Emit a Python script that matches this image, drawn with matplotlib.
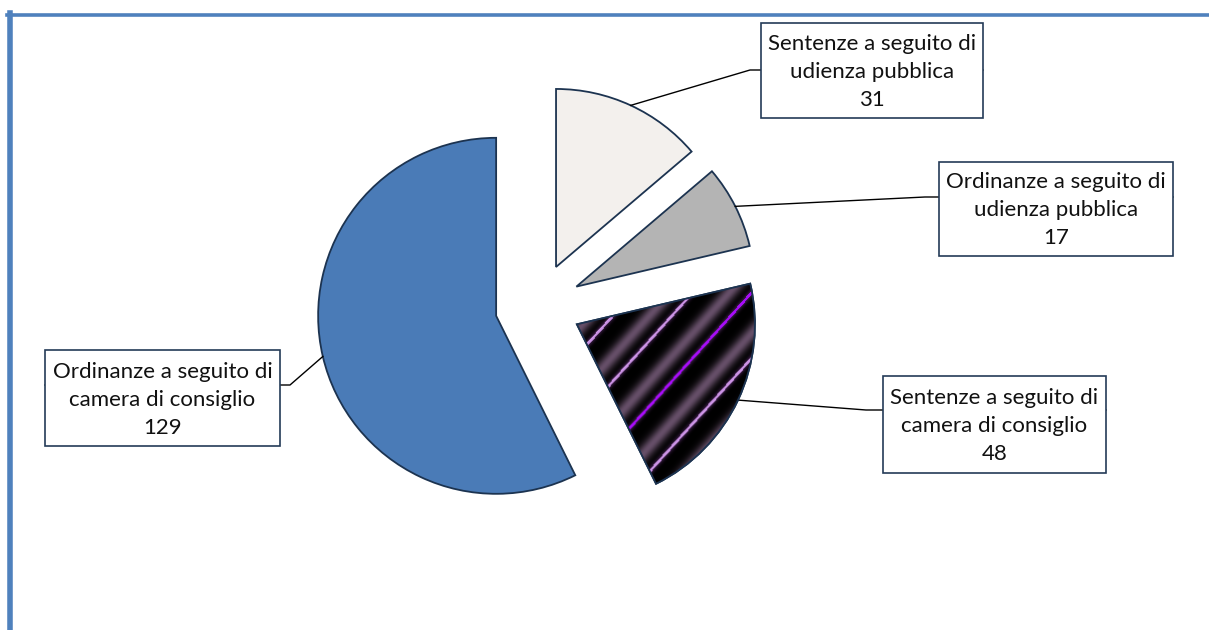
import numpy as np
import matplotlib
matplotlib.use("Agg")
import matplotlib.pyplot as plt
from matplotlib.patches import Rectangle, Wedge
from matplotlib.lines import Line2D

# ripartizione delle decisioni
categorie = ["Sentenze a seguito di\nudienza pubblica",
             "Ordinanze a seguito di\nudienza pubblica",
             "Sentenze a seguito di\ncamera di consiglio",
             "Ordinanze a seguito di\ncamera di consiglio"]
valori = [31, 17, 48, 129]
colori = ["#f3f0ed", "#b4b4b4", "#000000", "#4a7bb7"]

W, H = 1209, 630
fig = plt.figure(figsize=(W / 100, H / 100), dpi=100)
ax = fig.add_axes([0, 0, 1, 1])

centro = (538, H - 306)
raggio = 178
wedges, _ = ax.pie(valori, colors=colori, startangle=90, counterclock=False,
                   radius=raggio, center=centro, explode=[43] * len(valori),
                   wedgeprops=dict(edgecolor="#1c3350", linewidth=1.3))
ax.set_xlim(0, W)
ax.set_ylim(0, H)
ax.set_aspect("equal")
ax.axis("off")

# riempimento a righe diagonali per la fetta nera
w_nero = wedges[2]
cx, cy = w_nero.center
xs = np.arange(cx - 10, cx + raggio + 10)
ys = np.arange(cy - raggio - 10, cy + 40)
X, Y = np.meshgrid(xs, ys)
u = 0.742 * (X - cx) - 0.669 * (Y - cy)
periodo = 44.0
fase = (u - 108.7) / periodo
k = np.round(fase)
d = (fase - k) * periodo          # distanza dalla riga più vicina
t = (fase - np.floor(fase))       # posizione nel periodo, 0..1
banda = np.exp(-((t - 0.62) / 0.16) ** 2)
mauve = np.array([0.40, 0.31, 0.41])
img = banda[..., None] * mauve
alone = np.exp(-(d / 3.0) ** 2)[..., None] * np.array([0.25, 0.12, 0.30])
img = np.clip(img + alone, 0, 1)
linea = np.abs(d) < 1.3
lav = np.array([0.80, 0.58, 0.90])
viola = np.array([0.66, 0.05, 0.98])
img[linea & (k != 0)] = lav
img[linea & (k == 0)] = viola
im = ax.imshow(img, extent=(xs[0], xs[-1], ys[0], ys[-1]), origin="lower",
               interpolation="bilinear", zorder=w_nero.get_zorder() + 0.1)
im.set_clip_path(w_nero)
ax.add_patch(Wedge(w_nero.center, w_nero.r, w_nero.theta1, w_nero.theta2,
                   fill=False, edgecolor="#1c3350", linewidth=1.3,
                   zorder=w_nero.get_zorder() + 0.2))

# caselle delle etichette: (sinistra, alto, destra, basso) e gomito del richiamo
caselle = [(761, 23, 983, 118), (939, 162, 1173, 256),
           (883, 376, 1106, 473), (45, 350, 280, 446)]
gomiti = [(750, 70), (925, 197), (866, 410), (290, 385)]

for w, lab, val, (x0, y0, x1, y1), (gx, gy) in zip(wedges, categorie, valori, caselle, gomiti):
    tm = np.deg2rad((w.theta1 + w.theta2) / 2)
    sx = w.center[0] + w.r * np.cos(tm)
    sy = w.center[1] + w.r * np.sin(tm)
    ex = x0 if gx > x1 else x1
    ax.add_line(Line2D([sx, gx, ex], [sy, H - gy, H - gy], color="black", lw=1.0, zorder=1))
    ax.add_patch(Rectangle((x0, H - y1), x1 - x0, y1 - y0, facecolor="white",
                           edgecolor="#243b57", lw=1.2, zorder=3))
    ax.text((x0 + x1) / 2, H - (y0 + y1) / 2 - 1.5, f"{lab}\n{val}", ha="center", va="center",
            fontsize=16, family="Lato", color="#111111", linespacing=1.5, zorder=4)

# cornice esterna
blu = "#4f81bd"
fig.add_artist(Line2D([7 / W, 1], [1 - 14.5 / H, 1 - 14.5 / H], color=blu, lw=2.6,
                      transform=fig.transFigure))
fig.add_artist(Line2D([9.8 / W, 9.8 / W], [0, 1 - 13 / H], color=blu, lw=4.0,
                      transform=fig.transFigure))

fig.savefig("out.png", dpi=100)
